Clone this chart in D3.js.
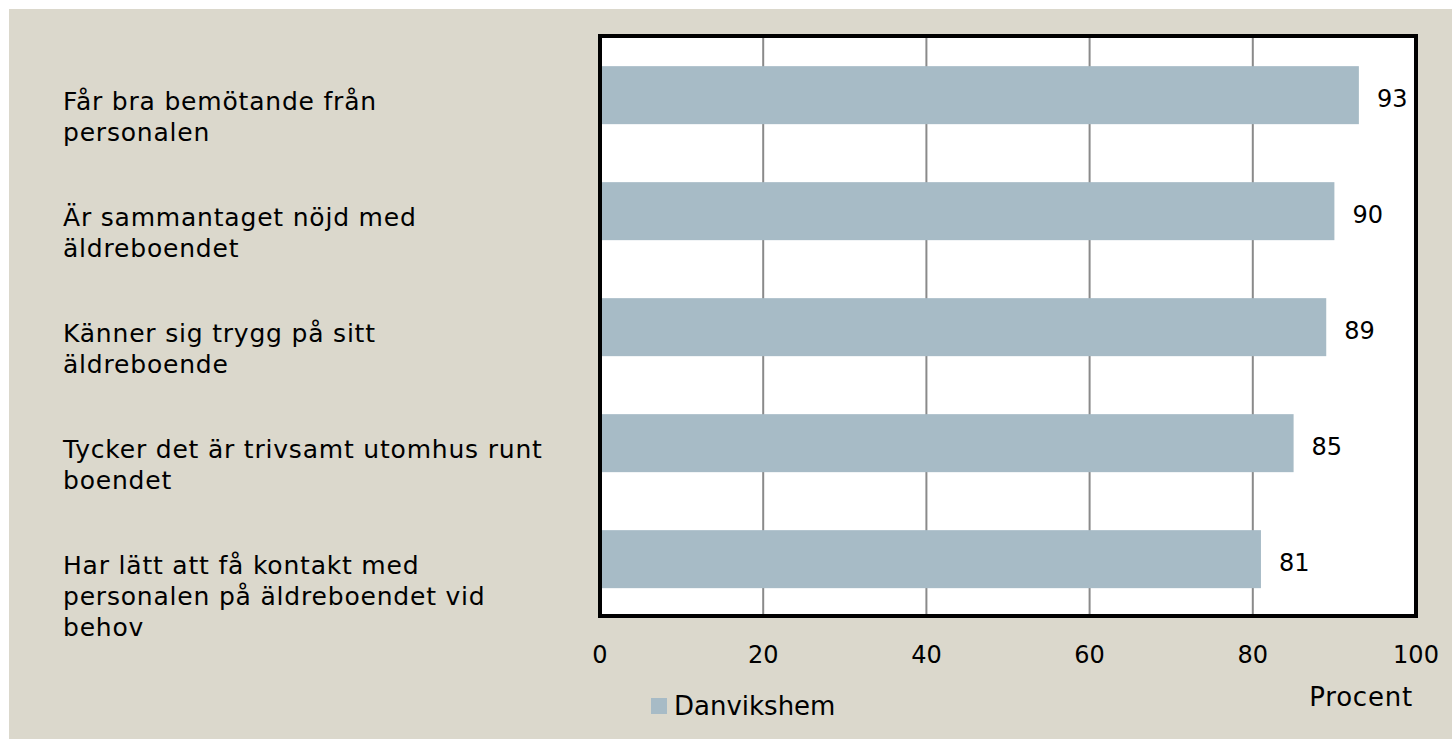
<!DOCTYPE html>
<html><head><meta charset="utf-8">
<script src="https://cdn.jsdelivr.net/npm/d3@7"></script>
<style>body{margin:0;background:#fff;}svg{display:block;}text{font-family:"DejaVu Sans",sans-serif;fill:#000;}</style>
</head><body>
<svg id="c" width="1452" height="739"></svg>
<script>
const categories = [
  ["Får bra bemötande från", "personalen"],
  ["Är sammantaget nöjd med", "äldreboendet"],
  ["Känner sig trygg på sitt", "äldreboende"],
  ["Tycker det är trivsamt utomhus runt", "boendet"],
  ["Har lätt att få kontakt med", "personalen på äldreboendet vid", "behov"]
];
const values = [93, 90, 89, 85, 81];
const ticks = [0, 20, 40, 60, 80, 100];
const seriesName = "Danvikshem";
const axisTitle = "Procent";

(function () {
const svg = d3.select("#c");
svg.append("rect").attr("x", 9).attr("y", 9).attr("width", 1452 - 9).attr("height", 739 - 9).attr("fill", "#dbd8cc");

const pL = 600, pR = 1416, pT = 36, pB = 616;
const x = d3.scaleLinear().domain([0, 100]).range([pL, pR]);
const y = d3.scaleBand().domain(d3.range(values.length)).range([pT, pB])
  .paddingInner(0.5).paddingOuter(0.25).align(0.52);

svg.append("rect").attr("x", pL).attr("y", pT).attr("width", pR - pL).attr("height", pB - pT).attr("fill", "#fff");

svg.append("g").selectAll("line").data(ticks.slice(1, -1)).join("line")
  .attr("x1", d => x(d)).attr("x2", d => x(d)).attr("y1", pT).attr("y2", pB)
  .attr("stroke", "#8a8a8a").attr("stroke-width", 2);

svg.append("g").selectAll("rect").data(values).join("rect")
  .attr("x", x(0)).attr("y", (d, i) => y(i)).attr("width", d => x(d) - x(0)).attr("height", y.bandwidth())
  .attr("fill", "#a7bbc6");

svg.append("rect").attr("x", pL).attr("y", pT).attr("width", pR - pL).attr("height", pB - pT)
  .attr("fill", "none").attr("stroke", "#000").attr("stroke-width", 4);

svg.append("g").selectAll("text").data(values).join("text")
  .attr("x", d => x(d) + 18).attr("y", (d, i) => y(i) + y.bandwidth() / 2 + 3).attr("dy", "0.35em")
  .attr("font-size", 24).text(d => d);

svg.append("g").selectAll("text").data(ticks).join("text")
  .attr("x", d => x(d)).attr("y", 655).attr("dy", "0.35em").attr("text-anchor", "middle")
  .attr("font-size", 24).text(d => d);

const step = y.step();
svg.append("g").selectAll("text").data(categories).join("text")
  .attr("font-size", 25).attr("letter-spacing", 0.8)
  .each(function (lines, i) {
    d3.select(this).selectAll("tspan").data(lines).join("tspan")
      .attr("x", 63).attr("y", (l, j) => pT + i * step + 65 + j * 31).attr("dy", "0.35em").text(l => l);
  });

svg.append("text").attr("x", 1413).attr("y", 697).attr("dy", "0.35em").attr("text-anchor", "end")
  .attr("font-size", 26).attr("letter-spacing", 0.8).text(axisTitle);

svg.append("rect").attr("x", 651).attr("y", 698).attr("width", 16).attr("height", 16).attr("fill", "#a7bbc6");
svg.append("text").attr("x", 674).attr("y", 706).attr("dy", "0.35em").attr("font-size", 26).text(seriesName);
})();
</script>
</body></html>
